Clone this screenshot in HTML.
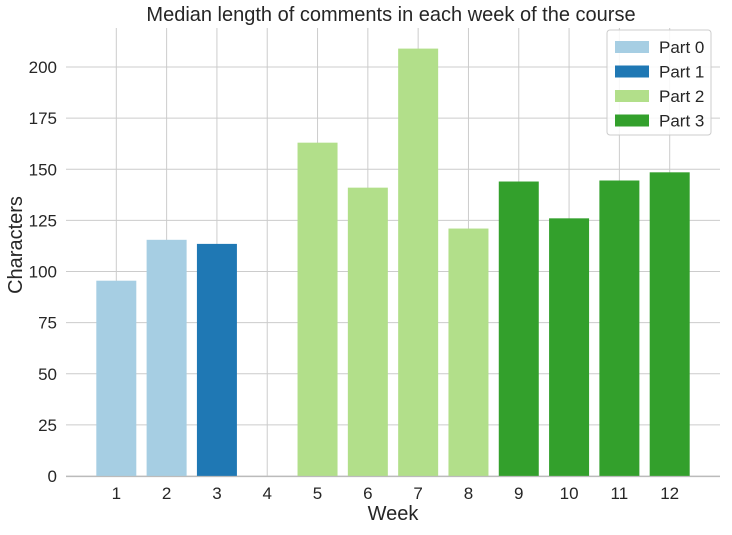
<!DOCTYPE html>
<html><head><meta charset="utf-8"><style>
body{margin:0;background:#fff;font-family:"Liberation Sans",Arial,sans-serif}
svg text{font-family:"Liberation Sans",Arial,sans-serif;fill:#262626}
</style></head><body>
<svg id="chart" width="732" height="530" xmlns="http://www.w3.org/2000/svg">
<rect width="732" height="530" fill="#fff"/>
<g id="grid"></g><g id="bars"></g><g id="ticks"></g>
<line x1="66" y1="476.5" x2="720" y2="476.5" stroke="#bbb" stroke-width="1.2"/>
<text x="391" y="21" font-size="20" text-anchor="middle">Median length of comments in each week of the course</text>
<text x="393" y="520" font-size="20" text-anchor="middle">Week</text>
<text x="22" y="245" font-size="20" text-anchor="middle" transform="rotate(-90 22 245)">Characters</text>
<g id="legend"></g>
</svg>
<script>
const weeks=[1,2,3,4,5,6,7,8,9,10,11,12];
const values=[95.5,115.5,113.5,0,163,141,209,121,144,126,144.5,148.5];
const parts=[0,0,1,1,2,2,2,2,3,3,3,3];
const partNames=["Part 0","Part 1","Part 2","Part 3"];
const yTicks=[0,25,50,75,100,125,150,175,200];
const colors=["#a6cee3","#1f78b4","#b2df8a","#33a02c"];
const NS="http://www.w3.org/2000/svg";
const X0=66,X1=720,Y0=476,Y1=28;
const xs=w=>X0+(w-0)/13*(X1-X0);
const ys=v=>Y0-v*(409/200);
function mk(t,a,p){const e=document.createElementNS(NS,t);for(const k in a)e.setAttribute(k,a[k]);p.appendChild(e);return e;}
const grid=document.getElementById('grid'),bars=document.getElementById('bars'),ticks=document.getElementById('ticks');
yTicks.forEach(v=>{
 const l=mk('line',{x1:X0,x2:X1,y1:ys(v),y2:ys(v),stroke:'#cccccc','stroke-width':1},grid);
 
 
 const t=mk('text',{x:57,y:ys(v)+6,'font-size':17,'text-anchor':'end'},ticks);
 t.textContent=v;
 
 
});
weeks.forEach((w,i)=>{
 const l=mk('line',{x1:xs(w),x2:xs(w),y1:Y1,y2:Y0,stroke:'#cccccc','stroke-width':1},grid);
 
 
 const t=mk('text',{x:xs(w),y:499,'font-size':17,'text-anchor':'middle'},ticks);
 t.textContent=w;
 
 
 const bw=40;
 const r=mk('rect',{x:xs(w)-bw/2,y:ys(values[i]),width:bw,height:Y0-ys(values[i]),fill:colors[parts[i]]},bars);
 
 
});
const lg=document.getElementById('legend');
mk('rect',{x:607,y:30,width:104,height:105,rx:3,fill:'#fff','fill-opacity':0.85,stroke:'#ccc'},lg);
partNames.forEach((n,i)=>{
 const y=38+i*24.5;
 const r=mk('rect',{x:615,y:y+3,width:34,height:12,fill:colors[i]},lg);
 
 
 const t=mk('text',{x:659,y:y+15,'font-size':17},lg);
 t.textContent=n;
 
 
});
</script>
</body></html>
